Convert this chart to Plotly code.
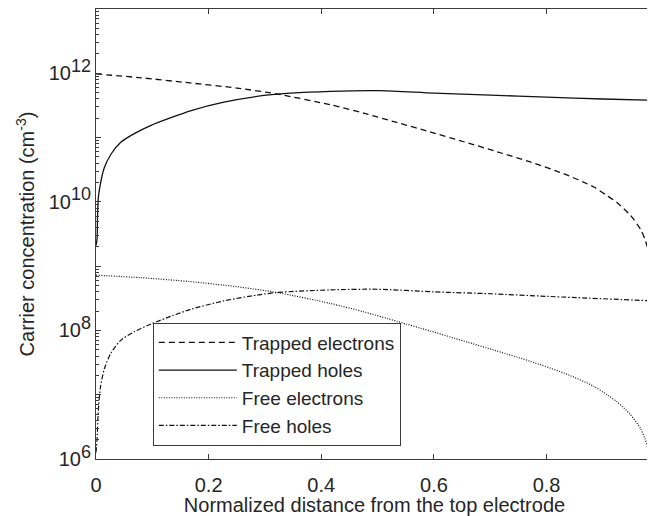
import plotly.graph_objects as go

# Trapped electrons
x_te = [0, 0.08, 0.167, 0.25, 0.32, 0.416, 0.475, 0.534, 0.594, 0.653, 0.712,
        0.771, 0.83, 0.884, 0.908, 0.925, 0.949, 0.967, 0.975, 0.982, 0.986, 0.989]
n_te = [9.77e11, 8.51e11, 7.08e11, 5.89e11, 4.79e11, 3.24e11, 2.40e11, 1.72e11,
        1.22e11, 8.61e10, 6.03e10, 4.17e10, 2.75e10, 1.70e10, 1.24e10, 9.77e9,
        6.17e9, 3.72e9, 2.57e9, 1.58e9, 1.05e9, 6.61e8]

# Trapped holes
x_th = [0, 0.0018, 0.0028, 0.0041, 0.0076, 0.0147, 0.0266, 0.0444, 0.068,
        0.0977, 0.133, 0.169, 0.227, 0.286, 0.345, 0.416, 0.505, 0.6,
        0.7, 0.8, 0.9, 0.99]
n_th = [2.09e9, 2.63e9, 6.17e9, 1.15e10, 1.86e10, 3.39e10, 5.50e10, 8.51e10,
        1.15e11, 1.55e11, 2.04e11, 2.63e11, 3.55e11, 4.37e11, 4.90e11,
        5.25e11, 5.37e11, 4.90e11, 4.57e11, 4.27e11, 3.98e11, 3.80e11]

# Free electrons
x_fe = [0, 0.08, 0.167, 0.25, 0.321, 0.416, 0.475, 0.535, 0.594, 0.653, 0.712,
        0.771, 0.83, 0.884, 0.908, 0.925, 0.949, 0.967, 0.975, 0.982, 0.986]
n_fe = [7.24e8, 6.61e8, 5.75e8, 4.79e8, 3.89e8, 2.63e8, 1.95e8, 1.38e8, 9.77e7,
        6.84e7, 4.79e7, 3.31e7, 2.19e7, 1.35e7, 9.89e6, 7.76e6, 4.90e6, 2.95e6,
        2.04e6, 1.26e6, 8.32e5]

# Free holes
x_fh = [0, 0.0018, 0.0041, 0.0076, 0.0147, 0.0266, 0.0444, 0.068, 0.0977,
        0.133, 0.169, 0.227, 0.286, 0.321, 0.416, 0.5, 0.6, 0.7, 0.8, 0.99]
n_fh = [1.26e6, 2.0e6, 5.62e6, 1.26e7, 2.51e7, 4.47e7, 7.08e7, 9.55e7, 1.26e8,
        1.66e8, 2.14e8, 2.88e8, 3.55e8, 3.89e8, 4.27e8, 4.37e8, 3.98e8, 3.72e8,
        3.39e8, 2.88e8]

x_ticks = [0, 0.2, 0.4, 0.6, 0.8]
x_ticktext = ["0", "0.2", "0.4", "0.6", "0.8"]
y_ticks = [1e6, 1e7, 1e8, 1e9, 1e10, 1e11, 1e12, 1e13]
y_exps = ["6", "", "8", "", "10", "", "12", ""]
y_minor = [m * 10 ** e for e in range(6, 13) for m in range(2, 10)]

y_ticktext = [f"10<sup><span style='font-size:18px'>{e}</span></sup>" if e else ""
              for e in y_exps]

LINE = "#111111"
AX = "#3a3a3a"
TXT = "#262626"

fig = go.Figure()
fig.add_trace(go.Scatter(x=x_te, y=n_te, mode="lines", name="Trapped electrons",
                         line=dict(color=LINE, width=1.3, dash="6px,4px", shape="spline", smoothing=0.7)))
fig.add_trace(go.Scatter(x=x_th, y=n_th, mode="lines", name="Trapped holes",
                         line=dict(color=LINE, width=1.3, shape="spline", smoothing=0.7)))
fig.add_trace(go.Scatter(x=x_fe, y=n_fe, mode="lines", name="Free electrons",
                         line=dict(color=LINE, width=1.2, dash="1px,1.5px", shape="spline", smoothing=0.7)))
fig.add_trace(go.Scatter(x=x_fh, y=n_fh, mode="lines", name="Free holes",
                         line=dict(color=LINE, width=1.2, dash="5px,2px,1.5px,2px", shape="spline", smoothing=0.7)))

# the page body has an 8px margin, so the figure is sized to fit the 655x516 window
fig.update_layout(
    width=647, height=508,
    margin=dict(l=88, r=2, t=1, b=57),
    plot_bgcolor="white", paper_bgcolor="white",
    font=dict(family="Liberation Sans, Arial, sans-serif", size=20, color=TXT),
    showlegend=True,
    legend=dict(x=0.102, y=0.03, xanchor="left", yanchor="bottom",
                bgcolor="white", bordercolor=AX, borderwidth=1,
                font=dict(size=19, color=TXT), tracegroupgap=0, itemwidth=78),
)
fig.update_xaxes(
    range=[0, 0.989], tickmode="array", tickvals=x_ticks, ticktext=x_ticktext,
    ticks="inside", ticklen=5, tickcolor=AX, showline=True, linecolor=AX,
    linewidth=1, mirror="ticks", showgrid=False, zeroline=False,
    automargin=False, ticklabelstandoff=8,
    title=dict(text="Normalized distance from the top electrode",
               font=dict(size=20), standoff=0),
)
fig.update_yaxes(
    type="log", range=[6, 13], tickmode="array", tickvals=y_ticks,
    ticktext=y_ticktext, ticks="inside", ticklen=5, tickcolor=AX,
    showline=True, linecolor=AX, linewidth=1, mirror="ticks",
    showgrid=False, zeroline=False, automargin=False,
    minor=dict(tickmode="array", tickvals=y_minor, ticks="inside", ticklen=3,
               tickcolor=AX, showgrid=False),
    title=dict(text="Carrier concentration (cm<sup>-3</sup>)",
               font=dict(size=20), standoff=8),
)

fig.write_html("out.html")
